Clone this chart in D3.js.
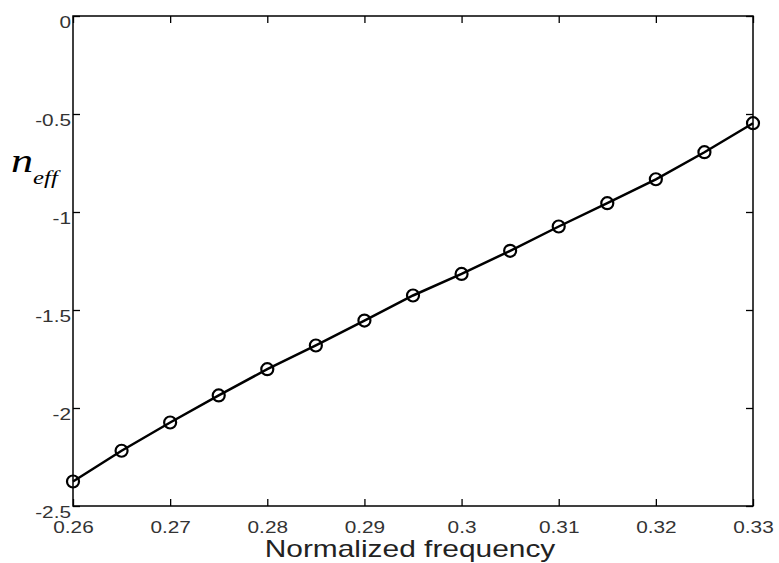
<!DOCTYPE html>
<html>
<head>
<meta charset="utf-8">
<script src="https://cdn.jsdelivr.net/npm/d3@7"></script>
<style>
  body { margin: 0; background: #fff; }
  svg { display: block; }
</style>
</head>
<body>
<div id="chart"></div>
<script>
// data
var freq = [0.26, 0.265, 0.27, 0.275, 0.28, 0.285, 0.29, 0.295, 0.30, 0.305, 0.31, 0.315, 0.32, 0.325, 0.33];
var neff = [-2.375, -2.218, -2.074, -1.936, -1.802, -1.681, -1.554, -1.426, -1.316, -1.198, -1.074, -0.955, -0.833, -0.695, -0.547];
var xTicks = [0.26, 0.27, 0.28, 0.29, 0.30, 0.31, 0.32, 0.33];
var xTickLabels = ['0.26', '0.27', '0.28', '0.29', '0.3', '0.31', '0.32', '0.33'];
var yTicks = [-2.5, -2, -1.5, -1, -0.5, 0];
var yTickLabels = ['-2.5', '-2', '-1.5', '-1', '-0.5', '0'];

var width = 779, height = 563;
var box = {left: 73, right: 753, top: 16, bottom: 506};
var stretch = 1.3; // text in the picture is wider than tall
var sans = 'Arial, "Liberation Sans", sans-serif';
var serif = '"Times New Roman", "Liberation Serif", serif';

var svg = d3.select('#chart').append('svg')
    .attr('width', width)
    .attr('height', height);

var x = d3.scaleLinear().domain([0.26, 0.33]).range([box.left, box.right]);
var y = d3.scaleLinear().domain([-2.5, 0]).range([box.bottom, box.top]);

//frame
svg.append('rect')
    .attr('x', box.left).attr('y', box.top)
    .attr('width', box.right - box.left).attr('height', box.bottom - box.top)
    .attr('fill', 'none').attr('stroke', '#000').attr('stroke-width', 1.5);

function styleAxis(g) {
    g.select('.domain').remove();
    g.selectAll('.tick line').attr('stroke', '#000').attr('stroke-width', 1.3);
}

//bottom axis, ticks pointing in
var xb = svg.append('g')
    .attr('transform', 'translate(0,' + box.bottom + ')')
    .call(d3.axisBottom(x).tickValues(xTicks).tickSize(-7)
        .tickFormat(function(d, i){ return xTickLabels[i]; }));
styleAxis(xb);
xb.selectAll('.tick text')
    .attr('y', 27).attr('dy', 0)
    .attr('fill', '#333')
    .style('font-family', sans).style('font-size', '16px')
    .attr('transform', 'scale(' + stretch + ',1)');

//top axis, no labels
var xt = svg.append('g')
    .attr('transform', 'translate(0,' + box.top + ')')
    .call(d3.axisTop(x).tickValues(xTicks).tickSize(-7).tickFormat(''));
styleAxis(xt);

//left axis
var yl = svg.append('g')
    .attr('transform', 'translate(' + box.left + ',0)')
    .call(d3.axisLeft(y).tickValues(yTicks).tickSize(-7)
        .tickFormat(function(d, i){ return yTickLabels[i]; }));
styleAxis(yl);
yl.selectAll('.tick text')
    .attr('x', -2 / stretch).attr('dy', 11)
    .attr('fill', '#333')
    .style('font-family', sans).style('font-size', '16px')
    .attr('transform', 'scale(' + stretch + ',1)');

//right axis, no labels
var yr = svg.append('g')
    .attr('transform', 'translate(' + box.right + ',0)')
    .call(d3.axisRight(y).tickValues(yTicks).tickSize(-7).tickFormat(''));
styleAxis(yr);

//curve
var line = d3.line()
    .x(function(d, i){ return x(freq[i]); })
    .y(function(d){ return y(d); });

svg.append('path')
    .datum(neff)
    .attr('d', line)
    .attr('fill', 'none')
    .attr('stroke', '#000')
    .attr('stroke-width', 2.5);

svg.append('g')
    .selectAll('circle')
    .data(neff)
    .enter()
        .append('circle')
        .attr('cx', function(d, i){ return x(freq[i]); })
        .attr('cy', function(d){ return y(d); })
        .attr('r', 6)
        .attr('fill', 'none')
        .attr('stroke', '#000')
        .attr('stroke-width', 2.2);

//axis titles
svg.append('text')
    .attr('transform', 'translate(' + ((box.left + box.right) / 2 - 3) + ',557) scale(' + stretch + ',1)')
    .attr('text-anchor', 'middle')
    .attr('fill', '#222')
    .style('font-family', sans)
    .style('font-size', '23px')
    .text('Normalized frequency');

var yt = svg.append('text')
    .attr('transform', 'translate(11,172) scale(1.3,1)')
    .attr('fill', '#000')
    .style('font-family', serif)
    .style('font-style', 'italic')
    .style('font-size', '34px');
yt.append('tspan').text('n');
yt.append('tspan')
    .attr('dy', 12)
    .style('font-size', '19px')
    .text('eff');
</script>
</body>
</html>
